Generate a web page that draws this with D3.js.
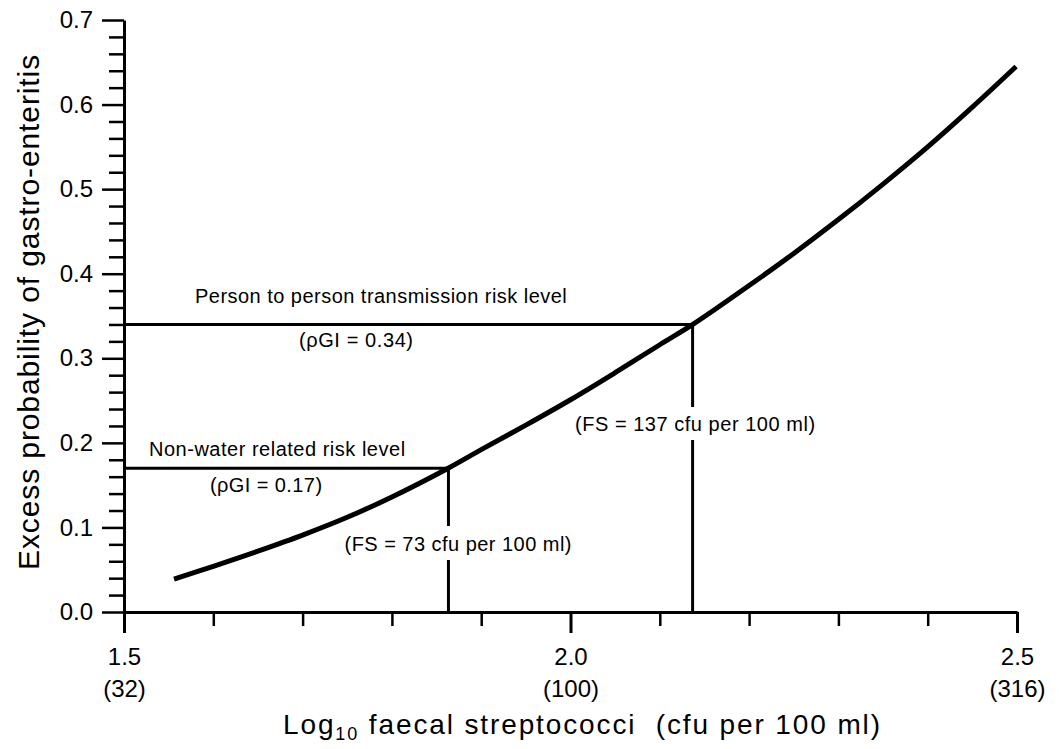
<!DOCTYPE html>
<html>
<head>
<meta charset="utf-8">
<script src="https://cdn.jsdelivr.net/npm/d3@7"></script>
<style>
  body { margin: 0; background: #fff; }
  text { font-family: "Liberation Sans", Arial, Helvetica, sans-serif; fill: #000; }
</style>
</head>
<body>
<svg id="chart" width="1059" height="749"></svg>
<script>
// ---------------- data ----------------
const logFS = [1.556, 1.60, 1.65, 1.70, 1.75, 1.80, 1.863, 1.90, 1.95, 2.00, 2.05, 2.10, 2.137, 2.20, 2.25, 2.30, 2.35, 2.40, 2.45, 2.499];
const excessProb = [0.039, 0.054, 0.072, 0.091, 0.112, 0.136, 0.170, 0.192, 0.221, 0.251, 0.283, 0.316, 0.340, 0.386, 0.424, 0.464, 0.506, 0.550, 0.597, 0.645];

const yMajorTicks = [0.0, 0.1, 0.2, 0.3, 0.4, 0.5, 0.6, 0.7];
const yMinorTicks = [0.02, 0.04, 0.06, 0.08, 0.12, 0.14, 0.16, 0.18, 0.22, 0.24, 0.26, 0.28,
                     0.32, 0.34, 0.36, 0.38, 0.42, 0.44, 0.46, 0.48, 0.52, 0.54, 0.56, 0.58,
                     0.62, 0.64, 0.66, 0.68];
const xMajorTicks = [1.5, 2.0, 2.5];
const xMajorTickCounts = ["(32)", "(100)", "(316)"];
const xMinorTicks = [1.6, 1.7, 1.8, 1.9, 2.1, 2.2, 2.3, 2.4];

const levelNames = ["Person to person transmission risk level", "Non-water related risk level"];
const levelPGI = [0.34, 0.17];
const levelFS = [137, 73];
const levelPGILabels = ["(\u03C1GI = 0.34)", "(\u03C1GI = 0.17)"];
const levelFSLabels = ["(FS = 137 cfu per 100 ml)", "(FS = 73 cfu per 100 ml)"];

// ---------------- layout ----------------
const svg = d3.select("#chart");
const x = d3.scaleLinear().domain([1.5, 2.5]).range([124, 1017]);
const y = d3.scaleLinear().domain([0, 0.7]).range([612, 20]);

// label placement (layout only)
const nameLayout = [{x0: 195, w: 372, dy: -21}, {x0: 149, w: 256, dy: -12}];
const pgiLayout  = [{x0: 299, w: 114, dy: 23},  {x0: 210, w: 112, dy: 24}];
const fsLayout   = [{w: 240, base: 431, gapTop: 407, gapBot: 440, cx: 695},
                    {w: 227, base: 551, gapTop: 526, gapBot: 560, cx: 458}];

function fitWidth(sel, target) {
  const n = sel.text().length;
  const w = sel.node().getComputedTextLength();
  sel.attr("letter-spacing", ((target - w) / Math.max(n - 1, 1)).toFixed(2));
}

// ---------------- axes ----------------
const axisStroke = 3;

// Y axis
const yAxis = svg.append("g").attr("transform", `translate(${x(1.5)},0)`)
  .call(d3.axisLeft(y).tickValues(yMajorTicks).tickSize(22).tickSizeOuter(0).tickPadding(9)
        .tickFormat(d3.format(".1f")));
yAxis.select(".domain").attr("stroke", "#000").attr("stroke-width", axisStroke);
yAxis.selectAll(".tick line").attr("stroke", "#000").attr("stroke-width", 2.5);
yAxis.selectAll(".tick text").attr("font-size", 24);
yAxis.attr("font-family", null);

const yMinor = svg.append("g").attr("transform", `translate(${x(1.5)},0)`)
  .call(d3.axisLeft(y).tickValues(yMinorTicks).tickSize(15).tickSizeOuter(0).tickFormat(""));
yMinor.select(".domain").remove();
yMinor.selectAll(".tick line").attr("stroke", "#000").attr("stroke-width", 2.5);

// X axis
const xAxis = svg.append("g").attr("transform", `translate(0,${y(0)})`)
  .call(d3.axisBottom(x).tickValues(xMajorTicks).tickSize(21).tickSizeOuter(0).tickPadding(15)
        .tickFormat(d3.format(".1f")));
xAxis.select(".domain").attr("stroke", "#000").attr("stroke-width", axisStroke);
xAxis.selectAll(".tick line").attr("stroke", "#000").attr("stroke-width", 3);
xAxis.selectAll(".tick text").attr("font-size", 24);
xAxis.attr("font-family", null);
xAxis.selectAll(".tick").append("text")
  .attr("y", 85).attr("font-size", 24).attr("text-anchor", "middle").attr("fill", "#000")
  .text((d, i) => xMajorTickCounts[i]);

const xMinor = svg.append("g").attr("transform", `translate(0,${y(0)})`)
  .call(d3.axisBottom(x).tickValues(xMinorTicks).tickSize(14).tickSizeOuter(0).tickFormat(""));
xMinor.select(".domain").remove();
xMinor.selectAll(".tick line").attr("stroke", "#000").attr("stroke-width", 2.5);

// ---------------- axis titles ----------------
const yTitle = svg.append("text")
  .attr("transform", `translate(39,312) rotate(-90)`)
  .attr("text-anchor", "middle").attr("font-size", 30)
  .text("Excess probability of gastro-enteritis");
fitWidth(yTitle, 515);

const xTitle = svg.append("text")
  .attr("x", 283).attr("y", 734).attr("font-size", 28)
  .style("white-space", "pre");
xTitle.append("tspan").text("Log");
xTitle.append("tspan").attr("font-size", 18).attr("dy", 6).text("10");
xTitle.append("tspan").attr("dy", -6).text(" faecal streptococci  (cfu per 100 ml)");
{
  const w = xTitle.node().getComputedTextLength();
  const n = "Log10 faecal streptococci  (cfu per 100 ml)".length;
  xTitle.attr("letter-spacing", ((597 - w) / (n - 1)).toFixed(2));
}

// ---------------- risk levels ----------------
const lev = svg.append("g");
levelPGI.forEach((p, i) => {
  const xv = x(Math.log10(levelFS[i]));
  const yv = y(p);
  lev.append("line").attr("x1", x(1.5)).attr("x2", xv).attr("y1", yv).attr("y2", yv)
    .attr("stroke", "#000").attr("stroke-width", 3);
  const L = fsLayout[i];
  lev.append("line").attr("x1", xv).attr("x2", xv).attr("y1", yv).attr("y2", L.gapTop)
    .attr("stroke", "#000").attr("stroke-width", 3);
  lev.append("line").attr("x1", xv).attr("x2", xv).attr("y1", L.gapBot).attr("y2", y(0))
    .attr("stroke", "#000").attr("stroke-width", 3);

  const nm = lev.append("text").attr("x", nameLayout[i].x0).attr("y", yv + nameLayout[i].dy)
    .attr("font-size", 20).text(levelNames[i]);
  fitWidth(nm, nameLayout[i].w);

  const pg = lev.append("text").attr("x", pgiLayout[i].x0).attr("y", yv + pgiLayout[i].dy)
    .attr("font-size", 20).text(levelPGILabels[i]);
  fitWidth(pg, pgiLayout[i].w);

  const fs = lev.append("text").attr("x", L.cx - L.w / 2).attr("y", L.base)
    .attr("font-size", 20).text(levelFSLabels[i]);
  fitWidth(fs, L.w);
});

// ---------------- curve ----------------
const pts = logFS.map((v, i) => [v, excessProb[i]]);
svg.append("path")
  .datum(pts)
  .attr("fill", "none").attr("stroke", "#000").attr("stroke-width", 5)
  .attr("d", d3.line().x(d => x(d[0])).y(d => y(d[1])).curve(d3.curveCatmullRom));
</script>
</body>
</html>
